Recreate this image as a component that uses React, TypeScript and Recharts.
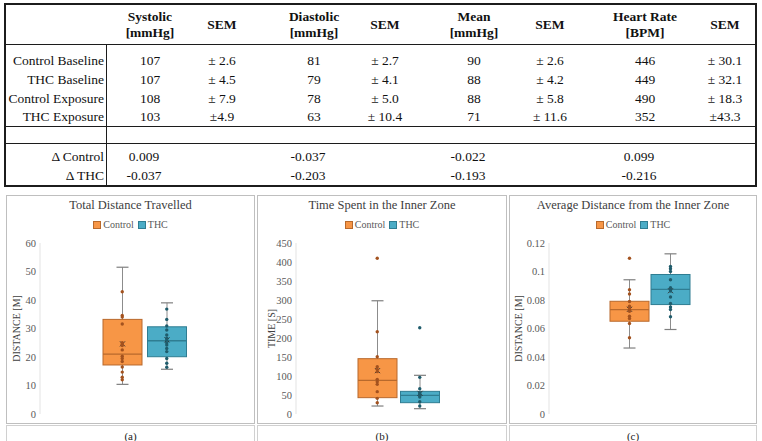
import React from "react";
import { Bar, ComposedChart, Scatter, XAxis, YAxis } from "recharts";

// ---- table data ----
const tableHeaders = ["Systolic", "SEM", "Diastolic", "SEM", "Mean", "SEM", "Heart Rate", "SEM"];
const tableUnits = ["[mmHg]", "", "[mmHg]", "", "[mmHg]", "", "[BPM]", ""];
const rowLabels = ["Control Baseline", "THC Baseline", "Control Exposure", "THC Exposure"];
const controlBaseline = ["107", "± 2.6", "81", "± 2.7", "90", "± 2.6", "446", "± 30.1"];
const thcBaseline = ["107", "± 4.5", "79", "± 4.1", "88", "± 4.2", "449", "± 32.1"];
const controlExposure = ["108", "± 7.9", "78", "± 5.0", "88", "± 5.8", "490", "± 18.3"];
const thcExposure = ["103", "±4.9", "63", "± 10.4", "71", "± 11.6", "352", "±43.3"];
const deltaLabels = ["Δ Control", "Δ THC"];
const deltaControl = ["0.009", "-0.037", "-0.022", "0.099"];
const deltaThc = ["-0.037", "-0.203", "-0.193", "-0.216"];

// ---- box plot data ----
const groups = ["Control", "THC"];

const distanceBoxes = [
  { group: "Control", min: 10.4, q1: 17.2, median: 21.0, q3: 33.2, max: 51.5, mean: 24.6 },
  { group: "THC", min: 15.7, q1: 20.1, median: 25.7, q3: 30.6, max: 39.0, mean: 26.0 },
];
const distanceControl = [42.9, 34.6, 34.0, 31.6, 25.0, 24.5, 24.0, 22.5, 20.3, 19.5, 18.4, 16.5, 14.7, 12.9, 12.0];
const distanceThc = [36.8, 33.2, 30.9, 29.5, 27.7, 26.6, 26.0, 25.0, 24.2, 23.0, 21.9, 19.5, 17.8, 16.4];

const timeBoxes = [
  { group: "Control", min: 21, q1: 43, median: 88.6, q3: 145.6, max: 298, mean: 114 },
  { group: "THC", min: 14, q1: 29.8, median: 49, q3: 59.6, max: 101.8, mean: 54.4 },
];
const timeControl = [410, 216.6, 150.8, 124.6, 117.5, 111.4, 91.2, 85, 78, 58.8, 41.2, 29.8];
const timeThc = [227, 96.5, 66.7, 56, 52.6, 48, 44.7, 32.4, 21];

const avgBoxes = [
  { group: "Control", min: 0.0463, q1: 0.0651, median: 0.0733, q3: 0.0791, max: 0.0942, mean: 0.0735 },
  { group: "THC", min: 0.0593, q1: 0.0768, median: 0.0875, q3: 0.0979, max: 0.1124, mean: 0.0865 },
];
const avgControl = [0.1093, 0.0872, 0.0842, 0.079, 0.0756, 0.0744, 0.0733, 0.0721, 0.0686, 0.067, 0.0635, 0.0535];
const avgThc = [0.1035, 0.1019, 0.1, 0.0942, 0.0886, 0.0872, 0.0863, 0.0821, 0.0775, 0.0751, 0.0733, 0.0682];

const distanceTicks = [0, 10, 20, 30, 40, 50, 60];
const timeTicks = [0, 50, 100, 150, 200, 250, 300, 350, 400, 450];
const avgTicks = [0, 0.02, 0.04, 0.06, 0.08, 0.1, 0.12];

// ---- styles ----
const serif = "Liberation Serif, Tinos, Times New Roman, DejaVu Serif, serif";
const fills: Record<string, string> = { Control: "#F79646", THC: "#4BACC6" };
const edges: Record<string, string> = { Control: "#b8692c", THC: "#2f7d92" };
const dots: Record<string, string> = { Control: "#a3521f", THC: "#1f5c6c" };

const colCenters = [150, 222, 314, 385, 474, 550, 645, 725];
const rowYs = [61, 80, 99, 117];
const deltaYs = [157, 176];

function Cell({ x, y, text, bold, align }: any) {
  const w = 120;
  const left = align === "right" ? x - w : x - w / 2;
  return (
    <div
      style={{
        position: "absolute",
        left,
        top: y - 9,
        width: w,
        height: 18,
        lineHeight: "18px",
        textAlign: align === "right" ? "right" : "center",
        fontWeight: bold ? "bold" : "normal",
        fontSize: 13.5,
        whiteSpace: "nowrap",
      }}
    >
      {text}
    </div>
  );
}

function DataTable() {
  const rows = [controlBaseline, thcBaseline, controlExposure, thcExposure];
  const deltas = [deltaControl, deltaThc];
  return (
    <div style={{ position: "absolute", left: 0, top: 0, width: 762, height: 190, fontFamily: serif, color: "#111" }}>
      <div style={{ position: "absolute", left: 4, top: 3, width: 753, height: 184, border: "2px solid #1c1c1c", boxSizing: "border-box" }} />
      <div style={{ position: "absolute", left: 5, top: 44, width: 751, height: 1, background: "#1c1c1c" }} />
      <div style={{ position: "absolute", left: 5, top: 126, width: 751, height: 1, background: "#1c1c1c" }} />
      <div style={{ position: "absolute", left: 5, top: 143, width: 751, height: 1, background: "#1c1c1c" }} />
      <div style={{ position: "absolute", left: 106, top: 44, width: 1, height: 142, background: "#1c1c1c" }} />
      {tableHeaders.map((h, i) =>
        tableUnits[i] ? (
          <React.Fragment key={"h" + i}>
            <Cell x={colCenters[i]} y={17} text={h} bold />
            <Cell x={colCenters[i]} y={33} text={tableUnits[i]} bold />
          </React.Fragment>
        ) : (
          <Cell key={"h" + i} x={colCenters[i]} y={25} text={h} bold />
        )
      )}
      {rowLabels.map((label, r) => (
        <React.Fragment key={"r" + r}>
          <Cell x={104} y={rowYs[r]} text={label} align="right" />
          {rows[r].map((v, c) => (
            <Cell key={c} x={colCenters[c]} y={rowYs[r]} text={v} />
          ))}
        </React.Fragment>
      ))}
      {deltaLabels.map((label, r) => (
        <React.Fragment key={"d" + r}>
          <Cell x={104} y={deltaYs[r]} text={label} align="right" />
          {deltas[r].map((v, c) => (
            <Cell key={c} x={colCenters[c * 2] - 6} y={deltaYs[r]} text={v} />
          ))}
        </React.Fragment>
      ))}
    </div>
  );
}

// box drawn on a range bar [min, max]; inner levels follow the same linear scale
function BoxShape(props: any) {
  const { x, y, width, height, payload } = props;
  if (!payload) return null;
  const top = Math.min(y, y + height);
  const bottom = Math.max(y, y + height);
  const span = payload.max - payload.min;
  const py = (v: number) => bottom - ((v - payload.min) / span) * (bottom - top);
  const cx = x + width / 2;
  const cap = 6;
  const g = payload.group;
  const yq1 = py(payload.q1);
  const yq3 = py(payload.q3);
  const ym = py(payload.median);
  const ymean = py(payload.mean);
  return (
    <g>
      <line x1={cx} x2={cx} y1={top} y2={bottom} stroke="#8c8c8c" strokeWidth={1} />
      <line x1={cx - cap} x2={cx + cap} y1={top} y2={top} stroke="#7f7f7f" strokeWidth={1.2} />
      <line x1={cx - cap} x2={cx + cap} y1={bottom} y2={bottom} stroke="#7f7f7f" strokeWidth={1.2} />
      <rect x={x} y={yq3} width={width} height={yq1 - yq3} fill={fills[g]} stroke={edges[g]} strokeWidth={1} />
      <line x1={x} x2={x + width} y1={ym} y2={ym} stroke={edges[g]} strokeWidth={1.3} />
      <line x1={cx - 2.5} x2={cx + 2.5} y1={ymean - 2.5} y2={ymean + 2.5} stroke="#333" strokeWidth={1} />
      <line x1={cx - 2.5} x2={cx + 2.5} y1={ymean + 2.5} y2={ymean - 2.5} stroke="#333" strokeWidth={1} />
    </g>
  );
}

function BoxPlot({ left, width, title, yLabel, boxes, controlPts, thcPts, domain, ticks, axisWidth, labelOffset, caption }: any) {
  const ctrlData = controlPts.map((v: number) => ({ group: "Control", value: v }));
  const thcData = thcPts.map((v: number) => ({ group: "THC", value: v }));
  return (
    <>
      <div
        style={{
          position: "absolute",
          left,
          top: 195,
          width,
          height: 229,
          border: "1px solid #bfbfbf",
          boxSizing: "border-box",
          fontFamily: serif,
        }}
      >
        <div style={{ position: "absolute", left: 0, top: 2, width: width - 2, textAlign: "center", fontSize: 12.5, color: "#404040" }}>
          {title}
        </div>
        <div
          style={{
            position: "absolute",
            left: 0,
            top: 23,
            width: width - 2,
            display: "flex",
            justifyContent: "center",
            fontSize: 10,
            color: "#595959",
            gap: 4,
          }}
        >
          {groups.map((gr) => (
            <span key={gr} style={{ display: "flex", alignItems: "center" }}>
              <span style={{ display: "inline-block", width: 6, height: 6, background: fills[gr], border: "1px solid " + edges[gr], marginRight: 2 }} />
              {gr}
            </span>
          ))}
        </div>
        <div style={{ position: "absolute", left: 0, top: 0 }}>
          <ComposedChart width={width - 2} height={226} data={boxes} margin={{ top: 47, right: 8, bottom: 8, left: 0 }} barSize={39}>
            <XAxis dataKey="group" type="category" hide allowDuplicatedCategory={false} padding={{ left: 60, right: 57 }} />
            <YAxis
              type="number"
              domain={domain}
              ticks={ticks}
              width={axisWidth}
              axisLine={{ stroke: "#e3e3e3" }}
              tickLine={false}
              tickSize={0}
              tickMargin={4}
              tick={{ fontSize: 10.5, fill: "#595959", fontFamily: serif }}
              label={{
                value: yLabel,
                angle: -90,
                position: "insideLeft",
                offset: labelOffset,
                style: { textAnchor: "middle", fontSize: 10, fill: "#404040", fontFamily: serif },
              }}
            />
            <Bar dataKey={(d: any) => [d.min, d.max]} shape={<BoxShape />} isAnimationActive={false} />
            <Scatter
              data={ctrlData}
              dataKey="value"
              isAnimationActive={false}
              shape={(p: any) => <circle cx={p.cx} cy={p.cy} r={1.7} fill={dots.Control} />}
            />
            <Scatter
              data={thcData}
              dataKey="value"
              isAnimationActive={false}
              shape={(p: any) => <circle cx={p.cx} cy={p.cy} r={1.7} fill={dots.THC} />}
            />
          </ComposedChart>
        </div>
      </div>
      <div
        style={{
          position: "absolute",
          left,
          top: 425,
          width,
          height: 24,
          borderLeft: "1px solid #d0d0d0",
          borderRight: "1px solid #d0d0d0",
          borderTop: "1px solid #d0d0d0",
          boxSizing: "border-box",
          textAlign: "center",
          fontFamily: serif,
          fontSize: 11,
          color: "#222",
          lineHeight: "20px",
        }}
      >
        {caption}
      </div>
    </>
  );
}

export default function App() {
  return (
    <div style={{ position: "relative", width: 762, height: 441, overflow: "hidden", background: "#fff" }}>
      <style>{"body{margin:0}"}</style>
      <DataTable />
      <BoxPlot
        left={6}
        width={249}
        title="Total Distance Travelled"
        yLabel="DISTANCE [M]"
        boxes={distanceBoxes}
        controlPts={distanceControl}
        thcPts={distanceThc}
        domain={[0, 60]}
        ticks={distanceTicks}
        axisWidth={33}
        labelOffset={9}
        caption="(a)"
      />
      <BoxPlot
        left={257}
        width={250}
        title="Time Spent in the Inner Zone"
        yLabel="TIME [S]"
        boxes={timeBoxes}
        controlPts={timeControl}
        thcPts={timeThc}
        domain={[0, 450]}
        ticks={timeTicks}
        axisWidth={38}
        labelOffset={13}
        caption="(b)"
      />
      <BoxPlot
        left={509}
        width={248}
        title="Average Distance from the Inner Zone"
        yLabel="DISTANCE [M]"
        boxes={avgBoxes}
        controlPts={avgControl}
        thcPts={avgThc}
        domain={[0, 0.12]}
        ticks={avgTicks}
        axisWidth={39}
        labelOffset={8}
        caption="(c)"
      />
    </div>
  );
}
